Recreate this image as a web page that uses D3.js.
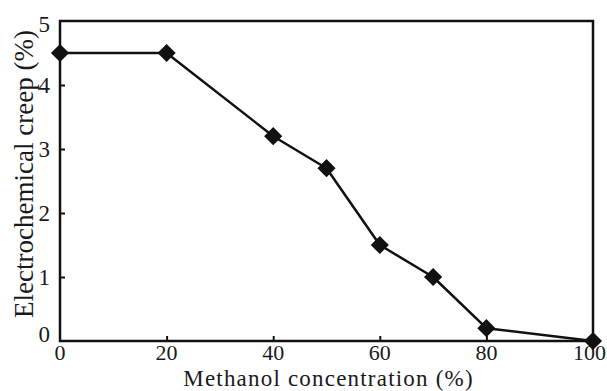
<!DOCTYPE html>
<html>
<head>
<meta charset="utf-8">
<script src="https://cdn.jsdelivr.net/npm/d3@7"></script>
<style>
  html, body { margin: 0; padding: 0; background: #fff; }
  svg { display: block; }
  text { font-family: "Liberation Serif", "Times New Roman", serif; fill: #1a1a1a; }
</style>
</head>
<body>
<svg id="chart" width="607" height="391"></svg>
<script>
// Methanol concentration (%) and electrochemical creep (%)
const concentration = [0, 20, 40, 50, 60, 70, 80, 100];
const creep = [4.5, 4.5, 3.2, 2.7, 1.5, 1.0, 0.2, 0.0];
const xTicks = [0, 20, 40, 60, 80, 100];
const yTicks = [0, 1, 2, 3, 4, 5];
const xTitle = "Methanol concentration (%)";
const yTitle = "Electrochemical creep (%)";

const svg = d3.select("#chart");
const margin = { left: 60, right: 14, top: 21, bottom: 50 };
const W = 607, H = 391;
const plotR = W - margin.right, plotB = H - margin.bottom;

const x = d3.scaleLinear().domain([0, 100]).range([margin.left, plotR]);
const y = d3.scaleLinear().domain([0, 5]).range([plotB, margin.top]);

const ink = "#111";

// frame
svg.append("rect")
  .attr("x", x(0)).attr("y", y(5))
  .attr("width", x(100) - x(0)).attr("height", y(0) - y(5))
  .attr("fill", "none").attr("stroke", ink).attr("stroke-width", 2.5);

// inward tick marks
const xAxis = d3.axisBottom(x).tickValues(xTicks.slice(1, -1)).tickSize(-5).tickFormat("");
const gx = svg.append("g").attr("transform", `translate(0,${y(0)})`).call(xAxis);
gx.select(".domain").remove();
gx.selectAll(".tick line").attr("stroke", ink).attr("stroke-width", 2);

const yAxis = d3.axisLeft(y).tickValues(yTicks.slice(1, -1)).tickSize(-5).tickFormat("");
const gy = svg.append("g").attr("transform", `translate(${x(0)},0)`).call(yAxis);
gy.select(".domain").remove();
gy.selectAll(".tick line").attr("stroke", ink).attr("stroke-width", 2);

// tick labels (the last one is pulled in so it stays on the page)
const last = xTicks[xTicks.length - 1];
svg.append("g").selectAll("text").data(xTicks).join("text")
  .attr("x", d => d === last ? W - 1 : x(d))
  .attr("y", plotB + 19)
  .attr("text-anchor", d => d === last ? "end" : "middle")
  .attr("font-size", 22)
  .text(d => d);

svg.append("g").selectAll("text").data(yTicks).join("text")
  .attr("x", 50).attr("y", d => y(d) + (d === 0 ? 1 : d === 5 ? 11 : 8))
  .attr("text-anchor", "end").attr("font-size", 23)
  .text(d => d);

// axis titles
svg.append("text")
  .attr("x", (x(0) + x(100)) / 2 + 2).attr("y", 385.5)
  .attr("text-anchor", "middle").attr("font-size", 23)
  .attr("letter-spacing", 1.2)
  .text(xTitle);

svg.append("text")
  .attr("transform", `translate(33,${174}) rotate(-90)`)
  .attr("text-anchor", "middle").attr("font-size", 27)
  .text(yTitle);

// data line
const pts = concentration.map((c, i) => [c, creep[i]]);
svg.append("path")
  .datum(pts)
  .attr("d", d3.line().x(d => x(d[0])).y(d => y(d[1])))
  .attr("fill", "none").attr("stroke", ink).attr("stroke-width", 2.5)
  .attr("stroke-linejoin", "round");

// diamond markers
const diamond = d3.symbol(d3.symbolSquare, 165);
svg.append("g").selectAll("path").data(pts).join("path")
  .attr("d", diamond)
  .attr("transform", d => `translate(${x(d[0])},${y(d[1])}) rotate(45)`)
  .attr("fill", ink);
</script>
</body>
</html>
